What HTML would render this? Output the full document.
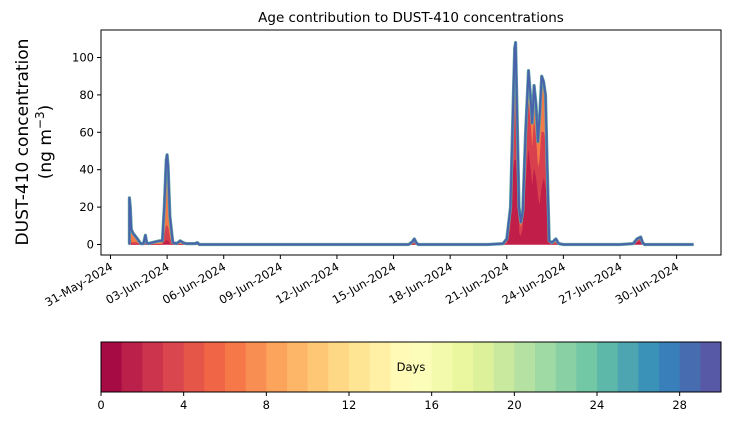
<!DOCTYPE html>
<html><head><meta charset="utf-8"><style>
body{margin:0;background:#fff;font-family:"Liberation Sans","DejaVu Sans",sans-serif;}
svg text{font-family:"DejaVu Sans","Liberation Sans",sans-serif;}
</style></head><body>
<svg id="c" width="730" height="425" xmlns="http://www.w3.org/2000/svg"></svg>
<script>
const times=[1.0,1.0,1.05,1.1,1.2,1.35,1.5,1.6,1.75,1.85,1.92,2.0,2.2,2.4,2.6,2.75,2.85,2.95,3.0,3.05,3.15,3.3,3.5,3.7,3.85,4.0,4.5,4.6,4.7,5,8,12,15,15.8,16.0,16.1,16.2,16.3,20,20.8,21.0,21.2,21.35,21.42,21.47,21.55,21.65,21.75,21.85,22.0,22.15,22.25,22.35,22.45,22.55,22.65,22.75,22.85,22.95,23.05,23.15,23.25,23.4,23.6,23.75,24,27,27.7,27.9,28.1,28.2,28.3,30.9];
const total=[0,25,20,8,6,4,2,0.5,0.5,5, 1,0.5,1,1.5,2,2,20,45,48,42, 15,1,0.5,2,1,0.5,0.5,1,0,0, 0,0,0,0,1.5,3,1,0,0,0.5, 3,20,80,105,108,70,20,12,18,60, 93,80,65,85,75,55,70,90,87,80, 40,2,1,3,0.5,0,0,0.5,3,4, 1,0,0];
const age0to1=[0,2,1,0,0,0,0,0,0,0, 0,0,0,0,0,0,1,2,2,2, 0,0,0,0,0,0,0,0,0,0, 0,0,0,0,0,0,0,0,0,0, 0,8,40,45,45,30,6,4,8,30, 50,40,30,40,35,25,20,30,35,30, 15,0.5,0,0,0,0,0,0,1,1.5, 0,0,0];
const age1to3=[0,4,3,1,1,1,0.5,0,0,1, 0,0,0,0,0,0,4,8,8,7, 3,0,0,0,0,0,0,0,0,0, 0,0,0,0,0.5,1,0.3,0,0,0, 1,7,25,35,35,25,8,4,5,15, 25,25,20,25,20,15,25,30,25,25, 12,0.5,0.3,1,0,0,0,0,1,1.5, 0.3,0,0];
const yTicks=[0,20,40,60,80,100];
const xTickDays=[0,3,6,9,12,15,18,21,24,27,30];
const xTickLabels=["31-May-2024","03-Jun-2024","06-Jun-2024","09-Jun-2024","12-Jun-2024","15-Jun-2024","18-Jun-2024","21-Jun-2024","24-Jun-2024","27-Jun-2024","30-Jun-2024"];
const cbTicks=[0,4,8,12,16,20,24,28];

const NS="http://www.w3.org/2000/svg",svg=document.getElementById('c');
function el(t,a,p){const e=document.createElementNS(NS,t);for(const k in a)e.setAttribute(k,a[k]);(p||svg).appendChild(e);return e;}
const L=101,R=721,T=30,B=255;
const X=d=>110.5+d*18.87, Y=v=>244.5-v*1.87;
function area(lo,hi,color,name){
  let d="M"+X(times[0])+","+Y(hi[0]);
  for(let i=1;i<times.length;i++)d+="L"+X(times[i]).toFixed(1)+","+Y(hi[i]).toFixed(1);
  for(let i=times.length-1;i>=0;i--)d+="L"+X(times[i]).toFixed(1)+","+Y(lo[i]).toFixed(1);
  const p=el('path',{d:d+"Z",fill:color,stroke:color,'stroke-width':0.6});
  
}
const zero=times.map(()=>0);
const s1=age0to1, s2=times.map((_,i)=>age0to1[i]+age1to3[i]);
area(s2,total,"#f47a48","area-older-ages");
area(s1,s2,"#d8404e","area-age-1-3");
area(zero,s1,"#c11f4a","area-age-0-1");
let ld="";times.forEach((t,i)=>{ld+=(i?"L":"M")+X(t).toFixed(1)+","+Y(total[i]).toFixed(1);});
let tl=el('path',{d:ld,fill:"none",stroke:"#5fa8a0",'stroke-width':3.2,'stroke-linejoin':'round'});

tl=el('path',{d:ld,fill:"none",stroke:"#4a62ac",'stroke-width':2,'stroke-linejoin':'round'});

let fr=el('rect',{x:L,y:T,width:R-L,height:B-T,fill:"none",stroke:"#000",'stroke-width':1});

yTicks.forEach(v=>{
  el('line',{x1:L-4,x2:L,y1:Y(v),y2:Y(v),stroke:"#000"});
  const t=el('text',{x:L-7,y:Y(v)+4,'text-anchor':'end','font-size':11.5});t.textContent=v;
  
});
xTickDays.forEach((d,i)=>{
  const x=X(d);el('line',{x1:x,x2:x,y1:B,y2:B+4,stroke:"#000"});
  const t=el('text',{x:x+3,y:B+14,'text-anchor':'end','font-size':11.5,transform:`rotate(-30 ${x+3} ${B+14})`});
  t.textContent=xTickLabels[i];
  
});
let t=el('text',{x:411,y:22,'text-anchor':'middle','font-size':13.5});t.textContent="Age contribution to DUST-410 concentrations";

t=el('text',{x:0,y:0,'text-anchor':'middle','font-size':17,transform:'translate(28 142) rotate(-90)'});t.textContent="DUST-410 concentration";

t=el('text',{x:0,y:0,'text-anchor':'middle','font-size':17,transform:'translate(51 142) rotate(-90)'});
t.innerHTML='(ng m<tspan dy="-7" font-size="12">−3</tspan><tspan dy="7">)</tspan>';

// colorbar
const sp=["#9e0142","#d53e4f","#f46d43","#fdae61","#fee08b","#ffffbf","#e6f598","#abdda4","#66c2a5","#3288bd","#5e4fa2"];
function hx(c){return [1,3,5].map(i=>parseInt(c.substr(i,2),16));}
function spec(f){const p=f*10,i=Math.min(9,Math.floor(p)),r=p-i,a=hx(sp[i]),b=hx(sp[i+1]);return "rgb("+a.map((v,k)=>Math.round(v+(b[k]-v)*r)).join(",")+")";}
const cx0=101,cx1=721,cy0=342,cy1=392,bw=(cx1-cx0)/30;
for(let i=0;i<30;i++){const r=el('rect',{x:cx0+i*bw,y:cy0,width:bw+0.5,height:cy1-cy0,fill:spec((i+0.5)/30)});
}
fr=el('rect',{x:cx0,y:cy0,width:cx1-cx0,height:cy1-cy0,fill:"none",stroke:"#000"});

cbTicks.forEach(v=>{const x=cx0+v*bw;el('line',{x1:x,x2:x,y1:cy1,y2:cy1+4,stroke:"#000"});
const tt=el('text',{x:x,y:cy1+17,'text-anchor':'middle','font-size':11.5});tt.textContent=v;
});
t=el('text',{x:411,y:371,'text-anchor':'middle','font-size':11.5});t.textContent="Days";

</script>
</body></html>
